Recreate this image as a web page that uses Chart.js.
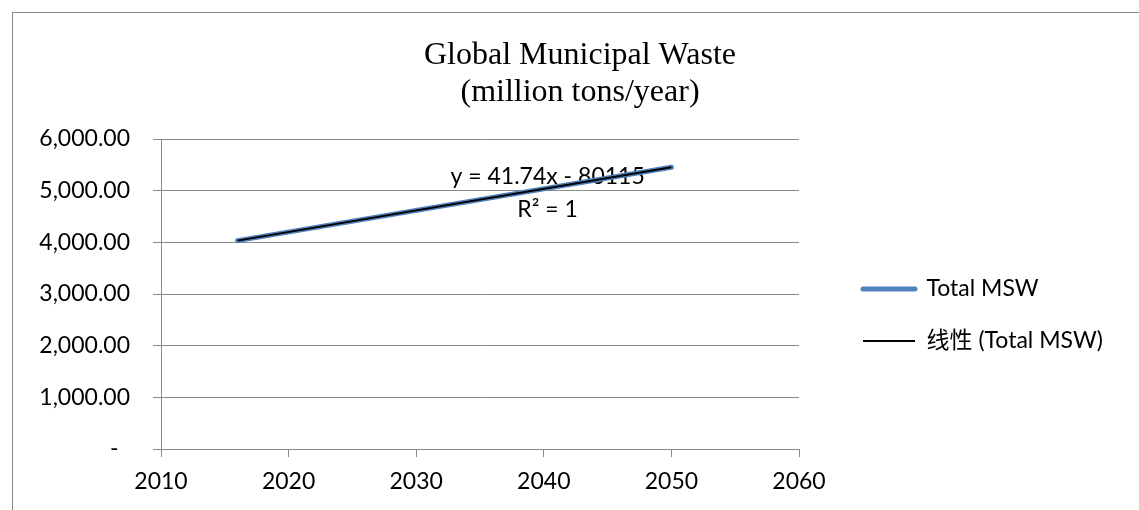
<!DOCTYPE html>
<html>
<head>
<meta charset="utf-8">
<title>Global Municipal Waste</title>
<script src="https://cdn.jsdelivr.net/npm/chart.js@4"></script>
<style>
    html, body {
        margin: 0;
        padding: 0;
        background: #ffffff;
        overflow: hidden;
    }
    .chart-box {
        position: absolute;
        left: 12px;
        top: 12px;
        width: 1134px;
        height: 520px;
        border: 1px solid #8a8a8a;
        background: #ffffff;
    }
</style>
</head>
<body>
<div class="chart-box">
    <canvas id="mswChart" width="1134" height="520"></canvas>
</div>
<script>
// Global municipal solid waste, million tons per year
const years = [2016, 2050];
const totalMsw = [4033, 5452];

// Linear trendline as reported on the chart
const trendSlope = 41.74;
const trendIntercept = -80115;
const trendRSquared = 1;

const yTicks = [0, 1000, 2000, 3000, 4000, 5000, 6000];
const xTicks = [2010, 2020, 2030, 2040, 2050, 2060];

const seriesLabel = 'Total MSW';
const trendLabel = '线性 (Total MSW)';

const SANS = "Lato, 'Noto Sans CJK SC', sans-serif";
const GRID = '#8a8a8a';

const mswPoints = years.map((year, i) => ({ x: year, y: totalMsw[i] }));
const trendPoints = years.map(year => ({ x: year, y: trendSlope * year + trendIntercept }));

function formatThousands(value) {
    if (value === 0) return '-\u2002';
    return value.toLocaleString('en-US', { minimumFractionDigits: 2, maximumFractionDigits: 2 });
}

function formatIntercept(value) {
    return value < 0 ? `- ${Math.abs(value)}` : `+ ${value}`;
}

// Equation and R² text next to the trendline
const trendEquation = {
    id: 'trendEquation',
    beforeDatasetsDraw(chart) {
        const { ctx, scales: { x, y } } = chart;
        ctx.save();
        ctx.font = `23px ${SANS}`;
        ctx.fillStyle = '#000000';
        ctx.textAlign = 'center';
        ctx.textBaseline = 'middle';
        const cx = x.getPixelForValue(2040.3);
        ctx.fillText(`y = ${trendSlope}x ${formatIntercept(trendIntercept)}`, cx, y.getPixelForValue(5264));
        ctx.fillText(`R\u00b2 = ${trendRSquared}`, cx, y.getPixelForValue(4625));
        ctx.restore();
    }
};

// Fixed-width legend column on the right, items nudged into place
const legendColumn = {
    id: 'legendColumn',
    beforeInit(chart) {
        const fit = chart.legend.fit;
        chart.legend.fit = function () {
            fit.call(this);
            this.width = 348;
        };
    },
    afterLayout(chart) {
        const legend = chart.legend;
        legend.left += 35;
        legend.right += 35;
        legend.top += 42;
        legend.bottom += 42;
    }
};

new Chart(document.getElementById('mswChart'), {
    type: 'line',
    data: {
        datasets: [{
            label: seriesLabel,
            data: mswPoints,
            borderColor: '#4f81bd',
            borderWidth: 5,
            borderCapStyle: 'round',
            pointRadius: 0,
            order: 2
        }, {
            label: trendLabel,
            data: trendPoints,
            borderColor: '#000000',
            borderWidth: 2,
            pointRadius: 0,
            order: 1
        }]
    },
    options: {
        responsive: false,
        animation: false,
        events: [],
        layout: { padding: 0 },
        scales: {
            x: {
                type: 'linear',
                min: 2010,
                max: 2060,
                afterBuildTicks: scale => { scale.ticks = xTicks.map(v => ({ value: v })); },
                afterFit: scale => { scale.height = 84; },
                ticks: {
                    callback: v => String(v),
                    color: '#000000',
                    font: { family: SANS, size: 23 },
                    padding: 11,
                    maxRotation: 0
                },
                grid: {
                    drawOnChartArea: false,
                    color: GRID,
                    tickLength: 8,
                    lineWidth: 1
                },
                border: { color: GRID, width: 1 }
            },
            y: {
                min: 0,
                max: 6000,
                afterBuildTicks: scale => { scale.ticks = yTicks.map(v => ({ value: v })); },
                afterFit: scale => { scale.width = 148; },
                ticks: {
                    callback: v => formatThousands(v),
                    color: '#000000',
                    font: { family: SANS, size: 23 },
                    padding: 23
                },
                grid: {
                    color: GRID,
                    tickLength: 8,
                    lineWidth: 1
                },
                border: { color: GRID, width: 1 }
            }
        },
        plugins: {
            title: {
                display: true,
                text: ['Global Municipal Waste', '(million tons/year)'],
                color: '#000000',
                font: { family: "'Liberation Serif', 'Times New Roman', serif", size: 32, weight: 'normal', lineHeight: 1.15 },
                padding: { top: 24, bottom: 28.4 }
            },
            legend: {
                position: 'right',
                align: 'center',
                labels: {
                    usePointStyle: true,
                    pointStyleWidth: 52,
                    padding: 29,
                    color: '#000000',
                    font: { family: SANS, size: 23 },
                    generateLabels: chart => chart.data.datasets.map((ds, i) => ({
                        text: ds.label,
                        datasetIndex: i,
                        pointStyle: 'line',
                        strokeStyle: ds.borderColor,
                        fillStyle: ds.borderColor,
                        lineWidth: ds.borderWidth,
                        lineCap: ds.borderCapStyle || 'butt',
                        fontColor: '#000000',
                        hidden: false
                    }))
                }
            },
            tooltip: { enabled: false }
        }
    },
    plugins: [trendEquation, legendColumn]
});
</script>
</body>
</html>
